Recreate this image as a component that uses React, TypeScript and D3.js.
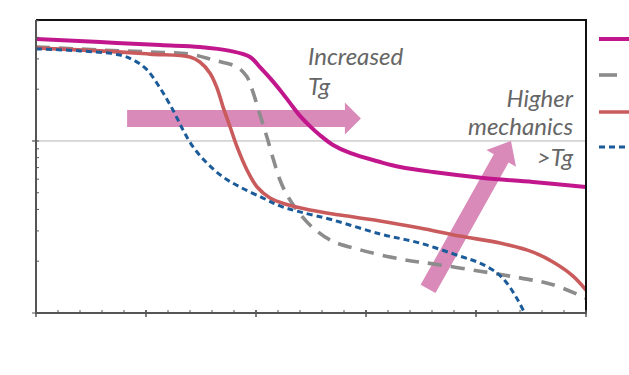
import React from "react";
import * as d3 from "d3";

// Temperature (°C) and storage modulus (MPa)
const magentaT = [0, 29.1, 56.4, 74.5, 88.2, 97.3, 101.8, 106.4, 110.9, 115.5, 120, 124.5, 129.1, 135, 142.7, 156.4, 165.5, 180.5, 203.2, 225.9, 250];
const magentaE = [392, 376, 361, 352, 334, 308, 269, 232, 198, 166, 140, 122, 108, 94.8, 85.2, 75.5, 70.6, 66.0, 61.0, 57.8, 54.0];

const grayT = [0, 29.1, 51.8, 70, 80.5, 91.4, 95.9, 98.6, 101.8, 105, 107.7, 110.9, 114.1, 118.6, 124.5, 133.6, 147.3, 165.5, 180.5, 201.8, 220, 235, 250];
const grayE = [352, 338, 329, 320, 296, 269, 236, 193, 142, 105, 79.7, 59.3, 48.5, 39.7, 32.5, 26.6, 23.3, 20.6, 19.3, 17.5, 16.0, 14.6, 12.2];

const redT = [0, 29.1, 51.8, 70, 74.5, 79.1, 82.3, 85, 88.2, 91.4, 95.9, 100.5, 106.4, 113.2, 124.5, 138.2, 156.4, 174.5, 192.7, 210.9, 225.9, 235, 244.1, 250];
const redE = [347, 334, 320, 308, 288, 248, 203, 158, 121, 92.3, 67.8, 54.0, 46.6, 43.0, 39.7, 37.1, 34.3, 31.2, 28.0, 25.5, 22.6, 19.8, 16.4, 13.6];

const blueT = [0, 20, 38.2, 45, 50.5, 56.4, 62.3, 66.8, 71.4, 77.7, 85, 92.7, 103.2, 110.9, 120, 135, 156.4, 174.5, 192.7, 201.8, 209.5, 214.1, 217.7, 220, 223.2];
const blueE = [343, 334, 316, 292, 259, 203, 151, 116, 92.3, 74.5, 61.8, 54.0, 46.6, 41.9, 38.7, 34.7, 28.8, 25.5, 21.4, 19.5, 17.1, 14.9, 12.7, 11.3, 9.35];

const xTicksMajor = [0, 50, 100, 150, 200, 250];
const xTicksMinor = d3.range(0, 251, 10);
const yDomain = [10, 505];

const W = 629, H = 375;
const L = 36, R = 586, T = 20, B = 313;

type S = { t: number[]; e: number[]; color: string; width: number; dash?: string };
const series: S[] = [
  { t: magentaT, e: magentaE, color: "#C2178C", width: 4 },
  { t: grayT, e: grayE, color: "#8C8C8C", width: 3.6, dash: "14,9" },
  { t: redT, e: redE, color: "#C95B5D", width: 3.6 },
  { t: blueT, e: blueE, color: "#1C5B9A", width: 3, dash: "6,4" },
];

function arrowPath(x1: number, y1: number, x2: number, y2: number, bw: number, hw: number, hl: number) {
  const dx = x2 - x1, dy = y2 - y1;
  const len = Math.hypot(dx, dy);
  const ux = dx / len, uy = dy / len;
  const nx = -uy, ny = ux;
  const bx = x2 - ux * hl, by = y2 - uy * hl;
  const p = (x: number, y: number) => `${x.toFixed(1)},${y.toFixed(1)}`;
  return "M" + [
    p(x1 + nx * bw / 2, y1 + ny * bw / 2),
    p(bx + nx * bw / 2, by + ny * bw / 2),
    p(bx + nx * hw / 2, by + ny * hw / 2),
    p(x2, y2),
    p(bx - nx * hw / 2, by - ny * hw / 2),
    p(bx - nx * bw / 2, by - ny * bw / 2),
    p(x1 - nx * bw / 2, y1 - ny * bw / 2),
  ].join("L") + "Z";
}

export default function App() {
  const x = d3.scaleLinear().domain([0, 250]).range([L, R]);
  const y = d3.scaleLog().domain(yDomain).range([B, T]);
  const yTicks = y.ticks().filter((v) => v >= 10 && v <= 505);

  const line = (s: S) =>
    d3.line<number>()
      .x((_, i) => x(s.t[i]))
      .y((_, i) => y(s.e[i]))
      .curve(d3.curveCatmullRom.alpha(0.5))(s.e) || "";

  const legendY = [39, 75, 112, 147];
  const font = "Lato, 'Open Sans', sans-serif";
  const textColor = "#666666";

  return (
    <svg width={W} height={H} style={{ position: "absolute", left: 0, top: 0, background: "#fff" }}>
      <defs>
        <clipPath id="plot">
          <rect x={L} y={T} width={R - L} height={B - T} />
        </clipPath>
      </defs>
      <rect width={W} height={H} fill="#fff" />
      {/* gridline at 100 */}
      <line x1={L - 4} x2={R} y1={y(100)} y2={y(100)} stroke="#b4b4b4" strokeWidth={1} />
      {/* arrows */}
      <path d={arrowPath(x(41.4), y(135), x(147.7), y(135), 17, 32, 16)} fill="#D98AB9" />
      <path d={arrowPath(x(178.2), y(13.8), x(215.9), y(100), 17, 34, 20)} fill="#D98AB9" />
      {/* curves */}
      <g clipPath="url(#plot)">
        {series.map((s, i) => (
          <path key={i} d={line(s)} fill="none" stroke={s.color} strokeWidth={s.width}
            strokeDasharray={s.dash} strokeLinejoin="round" />
        ))}
      </g>
      {/* frame */}
      <line x1={L} x2={R + 1} y1={T} y2={T} stroke="#111" strokeWidth={2} />
      <line x1={R} x2={R} y1={T} y2={B} stroke="#111" strokeWidth={2} />
      <line x1={L} x2={L} y1={T} y2={B + 1} stroke="#555" strokeWidth={2} />
      <line x1={L - 1} x2={R + 1} y1={B} y2={B} stroke="#555" strokeWidth={2} />
      {/* y ticks */}
      {yTicks.map((v, i) => {
        const major = Math.abs(Math.log10(v) - Math.round(Math.log10(v))) < 1e-6;
        return (
          <line key={"y" + i} x1={major ? L - 4 : L} x2={L + 3} y1={y(v)} y2={y(v)} stroke="#555" strokeWidth={1} />
        );
      })}
      {/* x ticks */}
      {xTicksMinor.map((v, i) => (
        <line key={"xm" + i} x1={x(v)} x2={x(v)} y1={B - 3} y2={B} stroke="#555" strokeWidth={1} />
      ))}
      {xTicksMajor.map((v, i) => (
        <line key={"xM" + i} x1={x(v)} x2={x(v)} y1={B - 3} y2={B + 4} stroke="#555" strokeWidth={1.5} />
      ))}
      {/* annotation text */}
      <g fontFamily={font} fontStyle="italic" fontSize={24} fill={textColor}>
        <text x={308} y={65}>Increased</text>
        <text x={308} y={95}>Tg</text>
        <text x={573} y={107} textAnchor="end">Higher</text>
        <text x={573} y={135} textAnchor="end">mechanics</text>
        <text x={573} y={166} textAnchor="end">&gt;Tg</text>
      </g>
      {/* legend */}
      {series.map((s, i) => (
        <line key={"lg" + i} x1={599} x2={i === 1 ? 617 : 640} y1={legendY[i]} y2={legendY[i]}
          stroke={s.color} strokeWidth={s.width} strokeDasharray={i === 1 ? undefined : s.dash} />
      ))}
    </svg>
  );
}
